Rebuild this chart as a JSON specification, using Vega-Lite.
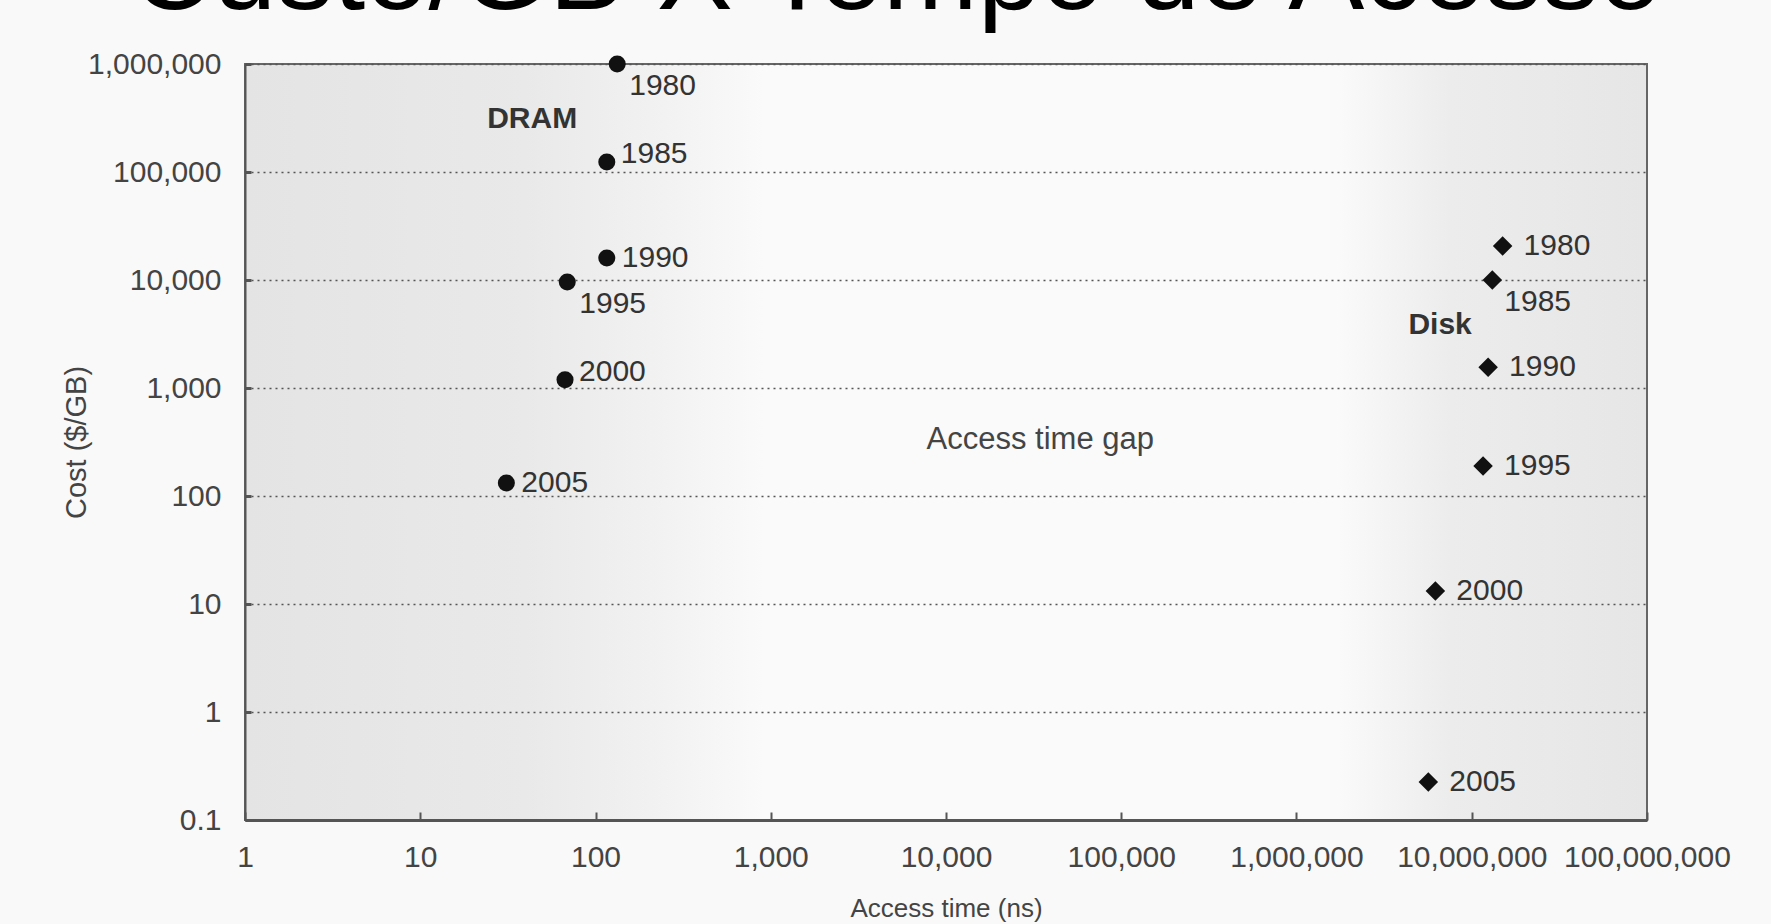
{
  "$schema": "https://vega.github.io/schema/vega-lite/v6.json",
  "autosize": {"type": "none"},
  "width": 1402,
  "height": 756,
  "padding": {"top": 64, "left": 245, "right": 124, "bottom": 104},
  "background": "#f9f9f9",
  "title": {
    "text": "Custo/GB X Tempo de Acesso",
    "font": "Liberation Sans",
    "fontSize": 114,
    "fontWeight": "normal",
    "color": "#000000",
    "anchor": "middle",
    "frame": "bounds",
    "offset": 16
  },
  "config": {
    "font": "Liberation Sans",
    "view": {
      "stroke": "#666666",
      "strokeWidth": 2,
      "fill": {
        "gradient": "linear",
        "x1": 0, "y1": 0, "x2": 1, "y2": 0,
        "stops": [
          {"offset": 0, "color": "#e4e4e4"},
          {"offset": 0.2, "color": "#e9e9e9"},
          {"offset": 0.3, "color": "#f2f2f2"},
          {"offset": 0.37, "color": "#fafafa"},
          {"offset": 0.78, "color": "#fafafa"},
          {"offset": 0.86, "color": "#ececec"},
          {"offset": 1, "color": "#e6e6e6"}
        ]
      }
    },
    "axis": {
      "labelFont": "Liberation Sans",
      "labelFontSize": 30,
      "labelColor": "#444444",
      "titleFont": "Liberation Sans",
      "titleFontWeight": "normal",
      "titleColor": "#444444",
      "domainColor": "#555555",
      "tickColor": "#555555"
    }
  },
  "data": {
    "values": [
      {"tech": "DRAM", "year": 1980, "time": 133, "cost": 1000000},
      {"tech": "DRAM", "year": 1985, "time": 116, "cost": 124000},
      {"tech": "DRAM", "year": 1990, "time": 116, "cost": 16000},
      {"tech": "DRAM", "year": 1995, "time": 69, "cost": 9600},
      {"tech": "DRAM", "year": 2000, "time": 67, "cost": 1190},
      {"tech": "DRAM", "year": 2005, "time": 31, "cost": 132},
      {"tech": "Disk", "year": 1980, "time": 15000000, "cost": 20600},
      {"tech": "Disk", "year": 1985, "time": 13100000, "cost": 10000},
      {"tech": "Disk", "year": 1990, "time": 12400000, "cost": 1560},
      {"tech": "Disk", "year": 1995, "time": 11600000, "cost": 190},
      {"tech": "Disk", "year": 2000, "time": 6200000, "cost": 13.2},
      {"tech": "Disk", "year": 2005, "time": 5650000, "cost": 0.225}
    ]
  },
  "encoding": {
    "x": {
      "field": "time",
      "type": "quantitative",
      "scale": {"type": "log", "domain": [1, 100000000], "nice": false},
      "axis": {
        "title": "Access time (ns)",
        "titleFontSize": 26,
        "values": [1, 10, 100, 1000, 10000, 100000, 1000000, 10000000, 100000000],
        "format": ",.0f",
        "grid": false,
        "tickSize": -8,
        "tickWidth": 2,
        "domainWidth": 3,
        "labelPadding": 30,
        "titlePadding": 23,
        "labelFlush": false,
        "labelOverlap": false
      }
    },
    "y": {
      "field": "cost",
      "type": "quantitative",
      "scale": {"type": "log", "domain": [0.1, 1000000], "nice": false},
      "axis": {
        "title": "Cost ($/GB)",
        "titleFontSize": 29,
        "values": [0.1, 1, 10, 100, 1000, 10000, 100000, 1000000],
        "labelExpr": "datum.value < 1 ? '0.1' : format(datum.value, ',')",
        "grid": true,
        "gridDash": [2, 4],
        "gridColor": "#555555",
        "gridWidth": 1.5,
        "tickSize": -6,
        "tickWidth": 3,
        "domainWidth": 2,
        "labelPadding": 30,
        "titlePadding": -4,
        "labelFlush": false,
        "labelOverlap": false
      }
    }
  },
  "layer": [
    {
      "mark": {"type": "point", "filled": true, "opacity": 1, "color": "#111111"},
      "encoding": {
        "shape": {"field": "tech", "type": "nominal", "scale": {"domain": ["DRAM", "Disk"], "range": ["circle", "diamond"]}, "legend": null},
        "size": {"field": "tech", "type": "nominal", "scale": {"domain": ["DRAM", "Disk"], "range": [290, 380]}, "legend": null}
      }
    },
    {
      "transform": [{"filter": "datum.tech === 'DRAM' && (datum.year === 1990 || datum.year === 2005)"}],
      "mark": {"type": "text", "align": "left", "baseline": "middle", "dx": 15, "dy": 0, "fontSize": 30, "color": "#333333"},
      "encoding": {"text": {"field": "year", "type": "nominal"}}
    },
    {
      "transform": [{"filter": "datum.tech === 'DRAM' && (datum.year === 1985 || datum.year === 2000)"}],
      "mark": {"type": "text", "align": "left", "baseline": "middle", "dx": 14, "dy": -8, "fontSize": 30, "color": "#333333"},
      "encoding": {"text": {"field": "year", "type": "nominal"}}
    },
    {
      "transform": [{"filter": "(datum.tech === 'DRAM' && (datum.year === 1980 || datum.year === 1995)) || (datum.tech === 'Disk' && datum.year === 1985)"}],
      "mark": {"type": "text", "align": "left", "baseline": "middle", "dx": 12, "dy": 22, "fontSize": 30, "color": "#333333"},
      "encoding": {"text": {"field": "year", "type": "nominal"}}
    },
    {
      "transform": [{"filter": "datum.tech === 'Disk' && datum.year !== 1985"}],
      "mark": {"type": "text", "align": "left", "baseline": "middle", "dx": 21, "dy": 0, "fontSize": 30, "color": "#333333"},
      "encoding": {"text": {"field": "year", "type": "nominal"}}
    },
    {
      "data": {"values": [
        {"label": "DRAM", "time": 43.5, "cost": 310000},
        {"label": "Disk", "time": 6600000, "cost": 3870}
      ]},
      "mark": {"type": "text", "align": "center", "baseline": "middle", "fontSize": 30, "fontWeight": "bold", "color": "#333333"},
      "encoding": {"text": {"field": "label", "type": "nominal"}}
    },
    {
      "data": {"values": [
        {"label": "Access time gap", "time": 34500, "cost": 330}
      ]},
      "mark": {"type": "text", "align": "center", "baseline": "middle", "fontSize": 31, "color": "#444444"},
      "encoding": {"text": {"field": "label", "type": "nominal"}}
    }
  ]
}
